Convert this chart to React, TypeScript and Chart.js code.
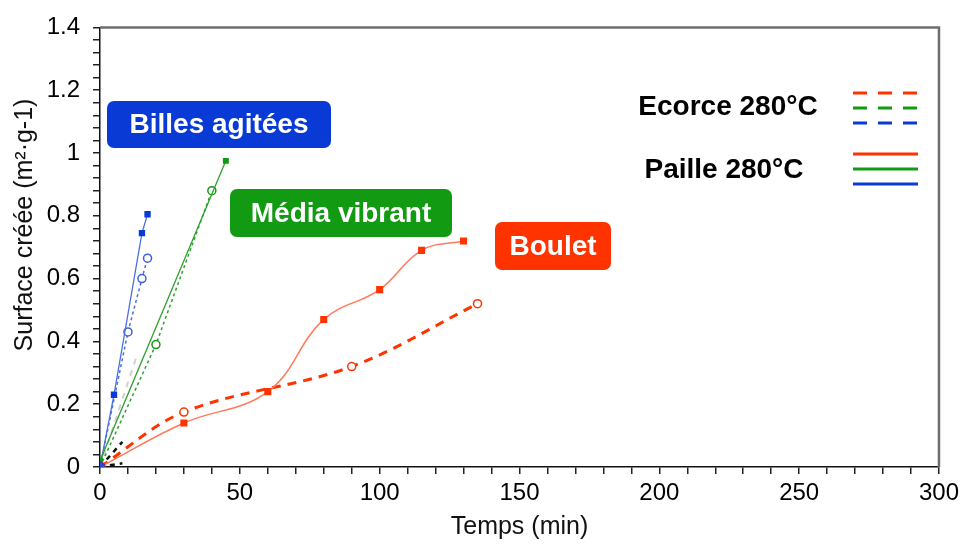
import React, { useEffect, useRef } from "react";
import { Chart, registerables } from "chart.js";

Chart.register(...registerables);

// ---- Data (time in min, created surface in m²·g-1) ----
const pailleBouletT = [0, 30, 60, 80, 100, 115, 130];
const pailleBouletS = [0, 0.14, 0.24, 0.47, 0.565, 0.69, 0.72];
const ecorceBouletT = [0, 30, 90, 135];
const ecorceBouletS = [0, 0.175, 0.32, 0.52];
const pailleMediaT = [0, 45];
const pailleMediaS = [0.02, 0.975];
const ecorceMediaT = [0, 20, 40];
const ecorceMediaS = [0, 0.39, 0.88];
const pailleBillesT = [0, 5, 15, 17];
const pailleBillesS = [0, 0.23, 0.745, 0.805];
const ecorceBillesT = [0, 10, 15, 17];
const ecorceBillesS = [0, 0.43, 0.6, 0.665];
const greyT = [0, 13];
const greyS = [0, 0.35];
const blackAT = [0, 8];
const blackAS = [0, 0.08];
const blackBT = [0, 8];
const blackBS = [0, 0.012];
const originT = [0];
const originS = [0];

const xTickLabelStep = 50;
const yTickLabelStep = 0.2;
const xTitle = "Temps (min)";
const yTitle = "Surface créée (m²·g-1)";
const legendRows = ["Ecorce 280°C", "Paille 280°C"];
const methodLabels = ["Billes agitées", "Média vibrant", "Boulet"];

const RED = "#ff3300";
const GREEN = "#139a13";
const BLUE = "#0a3ad6";

const pts = (t: number[], s: number[]) => t.map((x, i) => ({ x, y: s[i] }));

const overlay = {
  id: "overlay",
  afterDraw(chart: any) {
    const ctx = chart.ctx as CanvasRenderingContext2D;
    const a = chart.chartArea;
    ctx.save();
    // top/right frame
    ctx.strokeStyle = "#6e6e6e";
    ctx.lineWidth = 2.5;
    ctx.beginPath();
    ctx.moveTo(a.left, a.top);
    ctx.lineTo(a.right, a.top);
    ctx.lineTo(a.right, a.bottom);
    ctx.stroke();

    // axis titles
    ctx.fillStyle = "#111";
    ctx.font = "25px 'Liberation Sans', Arial, sans-serif";
    ctx.textAlign = "center";
    ctx.textBaseline = "middle";
    ctx.fillText(xTitle, (a.left + a.right) / 2, 527);
    ctx.save();
    ctx.translate(25, 225);
    ctx.rotate(-Math.PI / 2);
    ctx.fillText(yTitle, 0, 0);
    ctx.restore();

    // method label boxes
    const boxes = [
      { x: 107, y: 101, w: 224, h: 47, c: BLUE },
      { x: 230, y: 189, w: 222, h: 48, c: GREEN },
      { x: 495, y: 222, w: 116, h: 48, c: RED },
    ];
    ctx.font = "bold 28px 'Liberation Sans', Arial, sans-serif";
    boxes.forEach((b, i) => {
      ctx.fillStyle = b.c;
      ctx.beginPath();
      (ctx as any).roundRect(b.x, b.y, b.w, b.h, 7);
      ctx.fill();
      ctx.fillStyle = "#ffffff";
      ctx.fillText(methodLabels[i], b.x + b.w / 2, b.y + b.h / 2 + 1);
    });

    // legend
    ctx.fillStyle = "#000";
    ctx.font = "bold 28px 'Liberation Sans', Arial, sans-serif";
    ctx.fillText(legendRows[0], 728, 107);
    ctx.fillText(legendRows[1], 724, 170);
    const cols = [RED, GREEN, BLUE];
    ctx.lineWidth = 3;
    cols.forEach((c, i) => {
      ctx.strokeStyle = c;
      ctx.setLineDash([14, 11]);
      ctx.beginPath();
      ctx.moveTo(853, 93 + i * 15);
      ctx.lineTo(918, 93 + i * 15);
      ctx.stroke();
      ctx.setLineDash([]);
      ctx.beginPath();
      ctx.moveTo(853, 154 + i * 15);
      ctx.lineTo(918, 154 + i * 15);
      ctx.stroke();
    });
    ctx.restore();
  },
};

export default function App() {
  const ref = useRef<HTMLCanvasElement>(null);
  useEffect(() => {
    document.body.style.margin = "0";
    const canvas = ref.current!;
    const chart = new Chart(canvas, {
      type: "scatter",
      data: {
        datasets: [
          {
            data: pts(originT, originS),
            showLine: false,
            pointStyle: "circle",
            pointRadius: 5,
            pointBackgroundColor: "#2a4ad8",
            pointBorderColor: "#5a3a9a",
            pointBorderWidth: 1.5,
          },
          {
            data: pts(pailleBouletT, pailleBouletS),
            showLine: true,
            borderColor: "#ff7a5c",
            borderWidth: 1.5,
            tension: 0.4,
            pointStyle: "rect",
            pointRadius: 5,
            pointBackgroundColor: RED,
            pointBorderColor: RED,
            pointBorderWidth: 0,
          },
          {
            data: pts(ecorceBouletT, ecorceBouletS),
            showLine: true,
            borderColor: RED,
            borderWidth: 3,
            borderDash: [9, 7],
            tension: 0.35,
            pointStyle: "circle",
            pointRadius: 4,
            pointBackgroundColor: "#ffffff",
            pointBorderColor: RED,
            pointBorderWidth: 1.5,
          },
          {
            data: pts(pailleMediaT, pailleMediaS),
            showLine: true,
            borderColor: "#2fa02f",
            borderWidth: 1.3,
            pointStyle: "rect",
            pointRadius: 4.2,
            pointBackgroundColor: GREEN,
            pointBorderColor: GREEN,
            pointBorderWidth: 0,
          },
          {
            data: pts(ecorceMediaT, ecorceMediaS),
            showLine: true,
            borderColor: "#2fa02f",
            borderWidth: 1.5,
            borderDash: [3, 3],
            pointStyle: "circle",
            pointRadius: 4,
            pointBackgroundColor: "#ffffff",
            pointBorderColor: GREEN,
            pointBorderWidth: 1.5,
          },
          {
            data: pts(pailleBillesT, pailleBillesS),
            showLine: true,
            borderColor: "#4a70e0",
            borderWidth: 1.3,
            pointStyle: "rect",
            pointRadius: 4.5,
            pointBackgroundColor: BLUE,
            pointBorderColor: BLUE,
            pointBorderWidth: 0,
          },
          {
            data: pts(ecorceBillesT, ecorceBillesS),
            showLine: true,
            borderColor: "#4a70e0",
            borderWidth: 1.5,
            borderDash: [3, 3],
            pointStyle: "circle",
            pointRadius: 4,
            pointBackgroundColor: "#ffffff",
            pointBorderColor: "#3a60e0",
            pointBorderWidth: 1.5,
          },
          {
            data: pts(greyT, greyS),
            showLine: true,
            borderColor: "#d0d0d0",
            borderWidth: 2,
            borderDash: [6, 6],
            pointRadius: 0,
          },
          {
            data: pts(blackAT, blackAS),
            showLine: true,
            borderColor: "#111",
            borderWidth: 2.5,
            borderDash: [5, 5],
            pointRadius: 0,
          },
          {
            data: pts(blackBT, blackBS),
            showLine: true,
            borderColor: "#111",
            borderWidth: 2.5,
            borderDash: [5, 5],
            pointRadius: 0,
          },
        ],
      },
      options: {
        animation: false,
        responsive: false,
        layout: { padding: { left: 0, top: 22, right: 24, bottom: 0 } },
        plugins: { legend: { display: false }, tooltip: { enabled: false } },
        scales: {
          x: {
            type: "linear",
            min: 0,
            max: 300,
            afterFit: (s: any) => {
              s.height = 83;
            },
            ticks: {
              stepSize: 10,
              autoSkip: false,
              maxRotation: 0,
              padding: 5,
              color: "#000",
              font: { size: 24, family: "'Liberation Sans', Arial, sans-serif" },
              callback: (v: any) => (Number(v) % xTickLabelStep === 0 ? String(v) : ""),
            },
            grid: { drawOnChartArea: false, drawTicks: true, tickLength: 7, color: "#222", lineWidth: 1.5 },
            border: { display: true, color: "#111", width: 1.5 },
          },
          y: {
            type: "linear",
            min: 0,
            max: 1.4,
            afterFit: (s: any) => {
              s.width = 100;
            },
            ticks: {
              stepSize: 0.04,
              autoSkip: false,
              padding: 13,
              color: "#000",
              font: { size: 24, family: "'Liberation Sans', Arial, sans-serif" },
              callback: (v: any) => {
                const n = Number(v) / yTickLabelStep;
                return Math.abs(n - Math.round(n)) < 1e-6 ? String(+Number(v).toFixed(1)) : "";
              },
            },
            grid: { drawOnChartArea: false, drawTicks: true, tickLength: 7, color: "#222", lineWidth: 1.5 },
            border: { display: true, color: "#111", width: 1.5 },
          },
        },
      },
      plugins: [overlay],
    } as any);
    return () => chart.destroy();
  }, []);
  return (
    <div style={{ width: 964, height: 550, background: "#fff" }}>
      <canvas ref={ref} width={964} height={550} style={{ width: 964, height: 550, display: "block" }} />
    </div>
  );
}
